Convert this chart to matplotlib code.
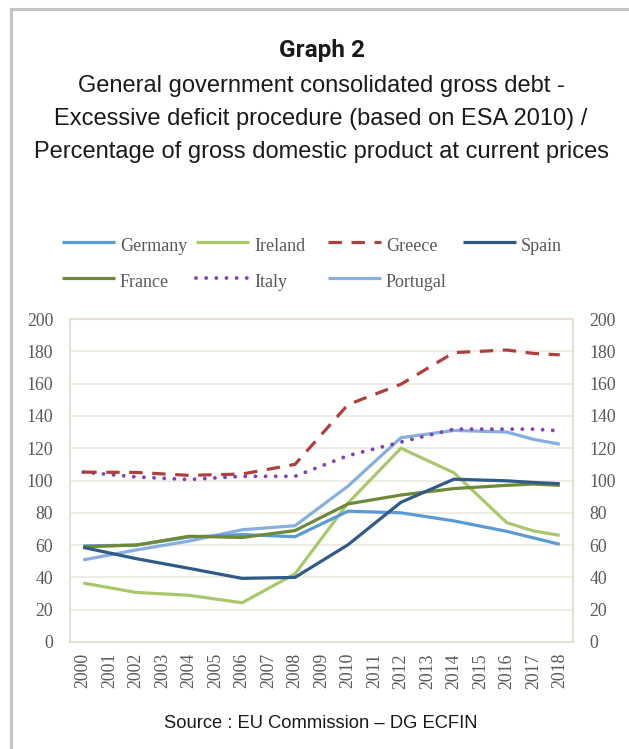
import matplotlib
matplotlib.use("Agg")
import matplotlib.pyplot as plt
from matplotlib.lines import Line2D

# --- data -------------------------------------------------------------
years = [2000, 2002, 2004, 2006, 2008, 2010, 2012, 2014, 2016, 2017, 2018]
tick_years = list(range(2000, 2019))

germany = [59.5, 60.0, 65.0, 66.5, 65.2, 81.0, 80.0, 75.0, 68.5, 64.5, 60.5]
ireland = [36.5, 30.7, 28.9, 24.3, 42.2, 86.0, 120.0, 104.8, 73.9, 68.8, 66.0]
greece = [105.2, 105.0, 103.2, 104.0, 110.0, 147.0, 159.6, 179.2, 180.8, 178.7, 177.8]
spain = [58.6, 51.6, 45.6, 39.4, 40.0, 60.2, 86.5, 100.8, 99.8, 98.8, 98.0]
france = [59.0, 60.0, 65.5, 64.7, 69.0, 85.5, 91.0, 95.0, 97.0, 97.8, 97.0]
italy = [105.2, 102.2, 100.6, 102.6, 102.6, 115.4, 123.8, 131.8, 131.8, 131.8, 130.8]
portugal = [50.8, 57.0, 62.5, 69.5, 72.0, 96.5, 126.5, 131.0, 130.0, 125.5, 122.5]

y_ticks = list(range(0, 201, 20))

title = "Graph 2"
subtitle = ("General government consolidated gross debt -\n"
            "Excessive deficit procedure (based on ESA 2010) /\n"
            "Percentage of gross domestic product at current prices")
source = "Source : EU Commission \u2013 DG ECFIN"

# --- styles -----------------------------------------------------------
LW = 2.3
styles = {
    "Germany": dict(color="#5b9bd5", lw=LW),
    "Ireland": dict(color="#a9c86c", lw=LW),
    "Greece": dict(color="#ae3f3c", lw=LW, dashes=(4.2, 3.0)),
    "Spain": dict(color="#2f5b88", lw=LW),
    "France": dict(color="#6f8a37", lw=LW),
    "Italy": dict(color="#8142b8", lw=2.8, dashes=(0.01, 2.6),
                  dash_capstyle="round"),
    "Portugal": dict(color="#85afdf", lw=LW),
}
series = {
    "Germany": germany, "Ireland": ireland, "Greece": greece,
    "Spain": spain, "France": france, "Italy": italy, "Portugal": portugal,
}
draw_order = ["Portugal", "Ireland", "Germany", "France", "Spain", "Italy", "Greece"]

SERIF = ["Liberation Serif", "DejaVu Serif"]
SANS = ["Liberation Sans", "DejaVu Sans"]
GREY = "#595959"
FRAME = "#e6e1d2"

W, H = 629, 749
fig = plt.figure(figsize=(W / 100, H / 100), dpi=100)
fig.patch.set_facecolor("white")


def fpos(x, y):
    return x / W, 1 - y / H


# outer frame (top and left edges)
fig.add_artist(Line2D([fpos(11, 0)[0], 1.0], [fpos(0, 9)[1]] * 2,
                      transform=fig.transFigure, color="#c3c3c3", lw=2.2))
fig.add_artist(Line2D([fpos(11, 0)[0]] * 2, [fpos(0, 9)[1], 0.0],
                      transform=fig.transFigure, color="#c3c3c3", lw=2.2))

# titles
fig.text(*fpos(322, 51), title, ha="center", va="center",
         family=["Roboto", "DejaVu Sans"], weight="bold",
         fontsize=17.5, color="#1a1a1a")
fig.text(*fpos(321, 119), subtitle, ha="center", va="center",
         family=SANS, fontsize=17, color="#1a1a1a", linespacing=1.62)

# --- axes -------------------------------------------------------------
l, r, t, b = 70, 573, 319, 642
ax = fig.add_axes([l / W, 1 - b / H, (r - l) / W, (b - t) / H])
for name in draw_order:
    ax.plot(years, series[name], solid_capstyle="butt", **styles[name])

ax.set_xlim(1999.5, 2018.5)
ax.set_ylim(0, 200)
ax.set_yticks(y_ticks)
ax.set_xticks(tick_years)
ax.set_xticklabels([str(y) for y in tick_years], rotation=90,
                   family=SERIF, fontsize=12.8, color=GREY)
ax.tick_params(axis="x", length=0, pad=8)
ax.tick_params(axis="y", length=0, pad=12, labelleft=True, labelright=True,
               labelsize=12.8, labelcolor=GREY)
for lab in ax.get_yticklabels():
    lab.set_family(SERIF)
ax.grid(axis="y", color="#eeebe1", lw=1.3)
ax.set_axisbelow(True)
for sp in ax.spines.values():
    sp.set_color(FRAME)
    sp.set_linewidth(1.5)

# --- legend -----------------------------------------------------------
legend_items = [
    ("Germany", 62, 241.7), ("Ireland", 196, 241.7),
    ("Greece", 328, 241.7), ("Spain", 463, 241.7),
    ("France", 62, 277.7), ("Italy", 196, 277.7), ("Portugal", 328, 277.7),
]
for name, x0, yy in legend_items:
    st = dict(styles[name])
    xa, ya = fpos(x0, yy)
    xb, _ = fpos(x0 + 53, yy)
    fig.add_artist(Line2D([xa, xb], [ya, ya], transform=fig.transFigure,
                          solid_capstyle="butt", **st))
    fig.text(*fpos(x0 + 58, yy + 9.3), name, ha="left", va="baseline",
             family=SERIF, fontsize=13, color=GREY)

# source
fig.text(*fpos(321, 723), source, ha="center", va="center",
         family=SANS, fontsize=13.2, color="#1a1a1a")

fig.savefig("out.png", dpi=100, facecolor="white")
